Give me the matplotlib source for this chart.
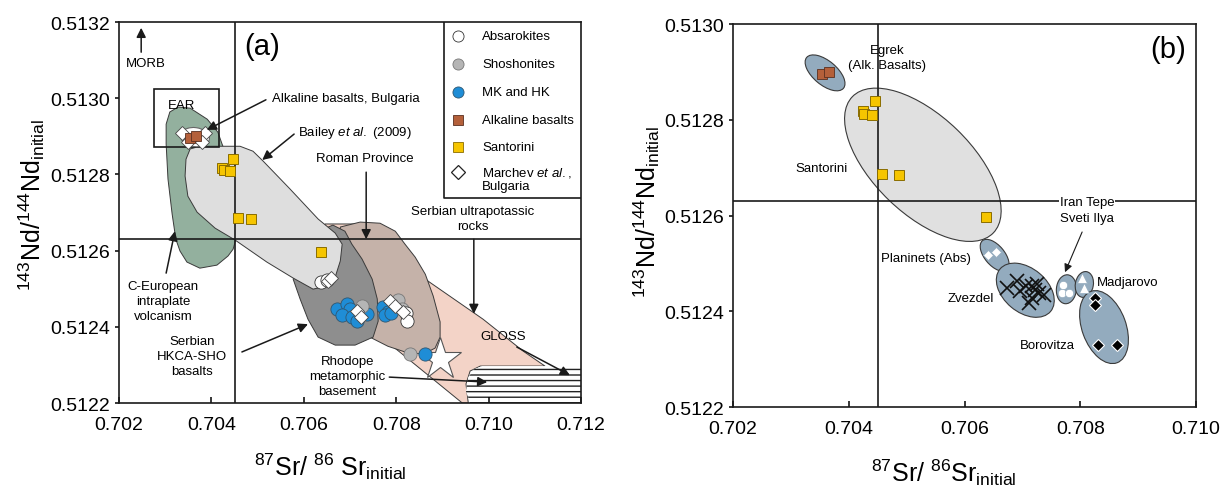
import numpy as np
import matplotlib
matplotlib.use('Agg')
import matplotlib.pyplot as plt
import matplotlib.transforms as mtransforms
from matplotlib.patches import Polygon, Ellipse, Rectangle
from matplotlib.ticker import FormatStrFormatter

plt.rcParams['font.family'] = ['Liberation Sans', 'DejaVu Sans']
plt.rcParams['mathtext.fontset'] = 'custom'
plt.rcParams['mathtext.rm'] = 'Liberation Sans'
plt.rcParams['mathtext.it'] = 'Liberation Sans:italic'
plt.rcParams['mathtext.bf'] = 'Liberation Sans:bold'
plt.rcParams['hatch.linewidth'] = 1.0

# ---- data ----
bulk_sr, bulk_nd = 0.70450, 0.51263

# panel (a) samples
blue_sr = [0.70672, 0.70694, 0.70700, 0.70683, 0.70704, 0.70715, 0.70737,
           0.70772, 0.70782, 0.70776, 0.70789, 0.70863]
blue_nd = [0.512447, 0.512460, 0.512447, 0.512431, 0.512426, 0.512415, 0.512433,
           0.512452, 0.512439, 0.512431, 0.512436, 0.512329]
gray_sr = [0.70726, 0.70804, 0.70813, 0.70830]
gray_nd = [0.512455, 0.512470, 0.512447, 0.512329]
abs_sr = [0.70637, 0.70650, 0.70821, 0.70824]
abs_nd = [0.512517, 0.512523, 0.512436, 0.512415]
march_sr = [0.70653, 0.70659, 0.70715, 0.70724, 0.70787, 0.70798, 0.70815,
            0.70336, 0.70386, 0.70349, 0.70380]
march_nd = [0.512520, 0.512528, 0.512441, 0.512426, 0.512467, 0.512454, 0.512439,
            0.512909, 0.512909, 0.512885, 0.512885]
alk_sr = [0.70353, 0.70366]
alk_nd = [0.512895, 0.512900]
sant_sr = [0.70446, 0.70424, 0.70427, 0.70440, 0.70458, 0.70486, 0.70637]
sant_nd = [0.512840, 0.512818, 0.512813, 0.512809, 0.512686, 0.512684, 0.512596]
star_sr, star_nd = [0.70895], [0.512315]

# fields, panel (a)
green_x = [0.70328, 0.70354, 0.70391, 0.70414, 0.70423, 0.70436, 0.70449, 0.70453, 0.70447, 0.70436,
           0.70412, 0.70375, 0.70347, 0.70332, 0.70323, 0.70315, 0.70306, 0.70302, 0.70302, 0.70310]
green_y = [0.512977, 0.512974, 0.512945, 0.512911, 0.512880, 0.512840, 0.512735, 0.512630, 0.512604, 0.512586,
           0.512562, 0.512554, 0.512570, 0.512599, 0.512630, 0.512696, 0.512788, 0.512880, 0.512932, 0.512964]
lgray_x = [0.70354, 0.70375, 0.70462, 0.70490, 0.70512, 0.70570, 0.70631, 0.70668, 0.70683, 0.70679, 0.70668,
           0.70650, 0.70620, 0.70577, 0.70520, 0.70451, 0.70408, 0.70369, 0.70349, 0.70343, 0.70345]
lgray_y = [0.512867, 0.512874, 0.512874, 0.512861, 0.512835, 0.512762, 0.512683, 0.512646, 0.512617, 0.512573, 0.512531,
           0.512507, 0.512499, 0.512528, 0.512570, 0.512628, 0.512659, 0.512701, 0.512743, 0.512796, 0.512840]
dgray_x = [0.70631, 0.70663, 0.70689, 0.70704, 0.70726, 0.70748, 0.70759, 0.70761, 0.70750, 0.70711,
           0.70668, 0.70631, 0.70609, 0.70592, 0.70577, 0.70592, 0.70614]
dgray_y = [0.512651, 0.512667, 0.512651, 0.512617, 0.512578, 0.512525, 0.512473, 0.512415, 0.512373, 0.512352,
           0.512352, 0.512373, 0.512420, 0.512473, 0.512525, 0.512578, 0.512617]
roman_x = [0.70679, 0.70722, 0.70765, 0.70798, 0.70819, 0.70841, 0.70863, 0.70880, 0.70895, 0.70895,
           0.70884, 0.70858, 0.70819, 0.70782, 0.70743, 0.70722, 0.70700, 0.70679]
roman_y = [0.512662, 0.512675, 0.512672, 0.512651, 0.512617, 0.512583, 0.512538, 0.512481, 0.512413, 0.512373,
           0.512344, 0.512328, 0.512334, 0.512349, 0.512373, 0.512420, 0.512499, 0.512578]
pink_x = [0.70646, 0.70711, 0.70808, 0.70863, 0.70988, 0.71075, 0.71122, 0.70982, 0.70960, 0.70951,
          0.70956, 0.70943, 0.70765, 0.70635]
pink_y = [0.512670, 0.512670, 0.512591, 0.512525, 0.512420, 0.512336, 0.512297, 0.512297, 0.512284, 0.512250,
          0.512200, 0.512200, 0.512376, 0.512499]
hatch_x = [0.70986, 0.71200, 0.71200, 0.70960, 0.70951, 0.70956, 0.70969]
hatch_y = [0.512297, 0.512297, 0.512200, 0.512200, 0.512231, 0.512268, 0.512289]
ear_x = [0.70276, 0.70416]
ear_y = [0.512872, 0.513024]
ear_ell_sr, ear_ell_nd = 0.703645, 0.512898

# panel (b) samples
plan_sr = [0.70640, 0.70655]
plan_nd = [0.512517, 0.512523]
zvez_sr = [0.70674, 0.70690, 0.70695, 0.70707, 0.70716, 0.70721, 0.70726, 0.70729, 0.70738, 0.70712, 0.70717]
zvez_nd = [0.512448, 0.512463, 0.512442, 0.512452, 0.512427, 0.512444, 0.512458, 0.512438, 0.512433, 0.512417, 0.512452]
iran_sr = [0.70771, 0.70769, 0.70781]
iran_nd = [0.512454, 0.512438, 0.512438]
madj_sr = [0.70803, 0.70807]
madj_nd = [0.512469, 0.512448]
boro_sr = [0.70826, 0.70826, 0.70831, 0.70864]
boro_nd = [0.512427, 0.512413, 0.512329, 0.512329]

# group fields, panel (b): centres
ell_names = ['Egrek', 'Santorini', 'Planinets', 'Zvezdel', 'Iran Tepe', 'Madjarovo', 'Borovitza']
ell_sr = [0.70359, 0.70528, 0.70652, 0.70705, 0.70776, 0.70807, 0.70841]
ell_nd = [0.512898, 0.512706, 0.512517, 0.512444, 0.512446, 0.512456, 0.512367]
# ellipse shapes in pixels (w, h, angle)
ell_shape = [(48, 24, -40), (196, 98, -44), (38, 20, -50), (66, 44, -40),
             (29, 20, 85), (26, 18, 80), (76, 44, -70)]
ell_fc = ['#93abbe', '#e0e0e0', '#93abbe', '#93abbe', '#93abbe', '#93abbe', '#93abbe']

# ---- figure ----
fig = plt.figure(figsize=(12.32, 4.89), dpi=100)
axa = fig.add_axes([0.0966, 0.1738, 0.375, 0.779])
axb = fig.add_axes([0.595, 0.1656, 0.3758, 0.7832])

EDGE = '#3a3a3a'


def style(ax, xlim, ylim, xt, yt):
    ax.set_xlim(*xlim)
    ax.set_ylim(*ylim)
    ax.set_xticks(xt)
    ax.set_yticks(yt)
    ax.xaxis.set_major_formatter(FormatStrFormatter('%.3f'))
    ax.yaxis.set_major_formatter(FormatStrFormatter('%.4f'))
    ax.tick_params(axis='x', direction='in', length=4.5, width=1.1, labelsize=14, pad=9)
    ax.tick_params(axis='y', direction='out', length=3, width=1.1, labelsize=14, pad=3.5)
    for s in ax.spines.values():
        s.set_linewidth(1.2)
        s.set_color('#1a1a1a')
    ax.axvline(bulk_sr, color='#1a1a1a', lw=1.2, zorder=6)
    ax.axhline(bulk_nd, color='#1a1a1a', lw=1.2, zorder=6)


def field(ax, xs, ys, fc, z, **kw):
    p = Polygon(np.column_stack([xs, ys]), closed=True, fc=fc, ec=EDGE, lw=0.7,
                joinstyle='round', zorder=z, **kw)
    ax.add_patch(p)


style(axa, (0.702, 0.712), (0.5122, 0.5132),
      [0.702, 0.704, 0.706, 0.708, 0.710, 0.712],
      [0.5122, 0.5124, 0.5126, 0.5128, 0.5130, 0.5132])
style(axb, (0.702, 0.710), (0.5122, 0.5130),
      [0.702, 0.704, 0.706, 0.708, 0.710],
      [0.5122, 0.5124, 0.5126, 0.5128, 0.5130])

# ---- panel (a) ----
field(axa, pink_x, pink_y, '#f3d3c7', 1, )
hp = Polygon(np.column_stack([hatch_x, hatch_y]), closed=True, fc='white', ec='#222222',
             lw=0, hatch='---', zorder=1.5)
axa.add_patch(hp)
field(axa, roman_x, roman_y, '#c5b2a9', 2)
field(axa, dgray_x, dgray_y, '#8e8e8e', 3)
field(axa, green_x, green_y, '#93b09e', 3.5)
field(axa, lgray_x, lgray_y, '#dedede', 4)

axa.add_patch(Rectangle((ear_x[0], ear_y[0]), ear_x[1] - ear_x[0], ear_y[1] - ear_y[0],
                        fill=False, ec='#1a1a1a', lw=1.2, zorder=6))
tr = fig.dpi_scale_trans + mtransforms.ScaledTranslation(ear_ell_sr, ear_ell_nd, axa.transData)
axa.add_patch(Ellipse((0, 0), 0.29, 0.19, angle=-8, transform=tr, fc='white', ec='#666666',
                      lw=0.8, zorder=6.5))

axa.plot(star_sr, star_nd, ls='none', marker='*', ms=32, mfc='white', mec='#555555', mew=0.8, zorder=7)
axa.plot(blue_sr, blue_nd, ls='none', marker='o', ms=9.5, mfc='#1f8dd6', mec='#2f5670', mew=0.6, zorder=8)
axa.plot(gray_sr, gray_nd, ls='none', marker='o', ms=9.5, mfc='#b5b5b5', mec='#777777', mew=0.6, zorder=8)
axa.plot(abs_sr, abs_nd, ls='none', marker='o', ms=9.5, mfc='white', mec='#333333', mew=0.6, zorder=8)
axa.plot(march_sr, march_nd, ls='none', marker='D', ms=7, mfc='white', mec='#444444', mew=0.6, zorder=9)
axa.plot(alk_sr, alk_nd, ls='none', marker='s', ms=7, mfc='#b4603a', mec='#5a3020', mew=0.6, zorder=10)
axa.plot(sant_sr, sant_nd, ls='none', marker='s', ms=7, mfc='#f6c500', mec='#8a6d00', mew=0.7, zorder=10)

# legend box
axa.plot([0.7035, 0.7035, 1.0], [1.0, 0.538, 0.538], transform=axa.transAxes, color='#1a1a1a', lw=1.2, zorder=11)
leg = [('o', 'white', '#333333', 'Absarokites', 0.963),
       ('o', '#b5b5b5', '#777777', 'Shoshonites', 0.890),
       ('o', '#1f8dd6', '#2f5670', 'MK and HK', 0.816),
       ('s', '#b4603a', '#5a3020', 'Alkaline basalts', 0.743),
       ('s', '#f6c500', '#8a6d00', 'Santorini', 0.672)]
for m, fc, ec, lab, yy in leg:
    axa.plot([0.734], [yy], transform=axa.transAxes, marker=m, ms=8 if m == 'o' else 7,
             mfc=fc, mec=ec, mew=0.6, ls='none', zorder=11)
    axa.text(0.786, yy, lab, transform=axa.transAxes, fontsize=9.5, va='center', zorder=11)
axa.plot([0.734], [0.606], transform=axa.transAxes, marker='D', ms=7.5, mfc='white', mec='#222222',
         mew=0.9, ls='none', zorder=11)
axa.text(0.786, 0.606, r'$\mathrm{Marchev}\ \mathit{et\ al.}\mathrm{,}$', transform=axa.transAxes,
         fontsize=9.5, va='center', zorder=11)
axa.text(0.786, 0.570, 'Bulgaria', transform=axa.transAxes, fontsize=9.5, va='center', zorder=11)

# annotations (a)
A = dict(arrowstyle='-|>', color='#1a1a1a', lw=1.1, mutation_scale=14, shrinkA=0, shrinkB=0)
T = axa.transAxes
axa.text(0.31, 0.937, '(a)', transform=T, fontsize=21, ha='center', va='center')
axa.text(0.058, 0.893, 'MORB', transform=T, fontsize=9.5, ha='center', va='center')
axa.annotate('', xy=(0.048, 0.985), xytext=(0.048, 0.921), xycoords=T, textcoords=T, arrowprops=A)
axa.text(0.136, 0.782, 'EAR', transform=T, fontsize=9.5, ha='center', va='center', zorder=12)
axa.text(0.331, 0.80, 'Alkaline basalts, Bulgaria', transform=T, fontsize=9.5, ha='left', va='center')
axa.annotate('', xy=(0.19, 0.717), xytext=(0.318, 0.796), xycoords=T, textcoords=T, arrowprops=A, zorder=12)
axa.text(0.387, 0.711, r'$\mathrm{Bailey}\ \mathit{et\ al.}\ \mathrm{(2009)}$', transform=T,
         fontsize=9.5, ha='left', va='center')
axa.annotate('', xy=(0.31, 0.638), xytext=(0.379, 0.706), xycoords=T, textcoords=T, arrowprops=A, zorder=12)
axa.text(0.533, 0.643, 'Roman Province', transform=T, fontsize=9.5, ha='center', va='center')
axa.annotate('', xy=(0.535, 0.43), xytext=(0.535, 0.606), xycoords=T, textcoords=T, arrowprops=A, zorder=12)
axa.text(0.766, 0.504, 'Serbian ultrapotassic', transform=T, fontsize=9.5, ha='center', va='center')
axa.text(0.766, 0.465, 'rocks', transform=T, fontsize=9.5, ha='center', va='center')
axa.annotate('', xy=(0.768, 0.234), xytext=(0.768, 0.43), xycoords=T, textcoords=T, arrowprops=A, zorder=12)
axa.text(0.831, 0.176, 'GLOSS', transform=T, fontsize=9.5, ha='center', va='center', zorder=12)
axa.annotate('', xy=(0.976, 0.073), xytext=(0.861, 0.147), xycoords=T, textcoords=T, arrowprops=A, zorder=12)
for yy, s in zip([0.110, 0.071, 0.031], ['Rhodope', 'metamorphic', 'basement']):
    axa.text(0.494, yy, s, transform=T, fontsize=9.5, ha='center', va='center', zorder=12)
axa.annotate('', xy=(0.797, 0.055), xytext=(0.585, 0.068), xycoords=T, textcoords=T, arrowprops=A, zorder=12)
for yy, s in zip([0.163, 0.123, 0.084], ['Serbian', 'HKCA-SHO', 'basalts']):
    axa.text(0.158, yy, s, transform=T, fontsize=9.5, ha='center', va='center', zorder=12)
axa.annotate('', xy=(0.409, 0.207), xytext=(0.266, 0.134), xycoords=T, textcoords=T, arrowprops=A, zorder=12)
for yy, s in zip([0.307, 0.268, 0.228], ['C-European', 'intraplate', 'volcanism']):
    axa.text(0.095, yy, s, transform=T, fontsize=9.5, ha='center', va='center', zorder=12)
axa.annotate('', xy=(0.121, 0.451), xytext=(0.102, 0.341), xycoords=T, textcoords=T, arrowprops=A, zorder=12)

axa.set_xlabel(r'$^{87}$Sr/ $^{86}$ Sr$_{\rm initial}$', fontsize=18)
axa.set_ylabel(r'$^{143}$Nd/$^{144}$Nd$_{\rm initial}$', fontsize=18)
axa.xaxis.set_label_coords(0.457, -0.125)
axa.yaxis.set_label_coords(-0.156, 0.522)

# ---- panel (b) ----
for cx, cy, (w, h, ang), fc in zip(ell_sr, ell_nd, ell_shape, ell_fc):
    tr = fig.dpi_scale_trans + mtransforms.ScaledTranslation(cx, cy, axb.transData)
    axb.add_patch(Ellipse((0, 0), w / 100, h / 100, angle=ang, transform=tr,
                          fc=fc, ec=EDGE, lw=0.8, zorder=2))

axb.plot(alk_sr, alk_nd, ls='none', marker='s', ms=6.5, mfc='#b4603a', mec='#5a3020', mew=0.6, zorder=8)
axb.plot(sant_sr, sant_nd, ls='none', marker='s', ms=6.5, mfc='#f6c500', mec='#8a6d00', mew=0.7, zorder=8)
axb.plot(plan_sr, plan_nd, ls='none', marker='D', ms=5.5, mfc='white', mec='#93abbe', mew=0.5, zorder=8)
axb.plot(zvez_sr, zvez_nd, ls='none', marker='x', ms=10, mec='#111111', mew=1.2, zorder=8)
axb.plot(iran_sr, iran_nd, ls='none', marker='o', ms=6, mfc='white', mec='#93abbe', mew=0.5, zorder=8)
axb.plot(madj_sr, madj_nd, ls='none', marker='^', ms=7, mfc='white', mec='#93abbe', mew=0.5, zorder=8)
axb.plot(boro_sr, boro_nd, ls='none', marker='D', ms=6, mfc='black', mec='white', mew=0.8, zorder=8)

T = axb.transAxes
axb.text(0.94, 0.935, '(b)', transform=T, fontsize=21, ha='center', va='center')
axb.text(0.333, 0.932, 'Egrek', transform=T, fontsize=9.5, ha='center', va='center', zorder=9)
axb.text(0.333, 0.893, '(Alk. Basalts)', transform=T, fontsize=9.5, ha='center', va='center', zorder=9)
axb.text(0.192, 0.624, 'Santorini', transform=T, fontsize=9.5, ha='center', va='center', zorder=9)
axb.text(0.765, 0.535, 'Iran Tepe', transform=T, fontsize=9.5, ha='center', va='center', zorder=9,
         bbox=dict(fc='white', ec='none', pad=0.6))
axb.text(0.765, 0.493, 'Sveti Ilya', transform=T, fontsize=9.5, ha='center', va='center', zorder=9)
axb.annotate('', xy=(0.717, 0.352), xytext=(0.754, 0.457), xycoords=T, textcoords=T,
             arrowprops=dict(arrowstyle='-|>', color='#1a1a1a', lw=0.8, mutation_scale=12,
                             shrinkA=0, shrinkB=0), zorder=9)
axb.text(0.514, 0.389, 'Planinets (Abs)', transform=T, fontsize=9.5, ha='right', va='center', zorder=9)
axb.text(0.564, 0.285, 'Zvezdel', transform=T, fontsize=9.5, ha='right', va='center', zorder=9)
axb.text(0.786, 0.326, 'Madjarovo', transform=T, fontsize=9.5, ha='left', va='center', zorder=9)
axb.text(0.739, 0.162, 'Borovitza', transform=T, fontsize=9.5, ha='right', va='center', zorder=9)

axb.set_xlabel(r'$^{87}$Sr/ $^{86}$Sr$_{\rm initial}$', fontsize=18)
axb.set_ylabel(r'$^{143}$Nd/$^{144}$Nd$_{\rm initial}$', fontsize=18)
axb.xaxis.set_label_coords(0.456, -0.128)
axb.yaxis.set_label_coords(-0.153, 0.512)

fig.savefig('out.png', dpi=100)
